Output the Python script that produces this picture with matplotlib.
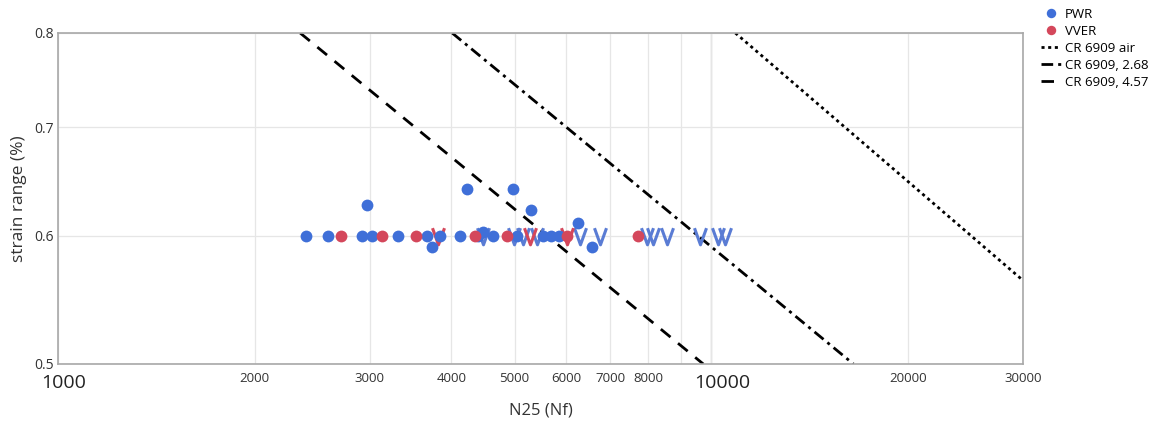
import matplotlib
matplotlib.use("Agg")
import matplotlib.pyplot as plt
import matplotlib.transforms as mtransforms
from matplotlib.path import Path
from matplotlib.ticker import FixedLocator, NullFormatter, FixedFormatter

plt.rcParams['font.family'] = ['Open Sans', 'DejaVu Sans']

# ---- data ----
pwr_N = [2398, 2591, 2922, 3026, 2973, 3316, 3674, 3739, 3846, 4128, 4231, 4398,
         4476, 4637, 4975, 5045, 5302, 5531, 5689, 5852, 6257, 6572]
pwr_strain = [0.6, 0.6, 0.6, 0.6, 0.627, 0.6, 0.6, 0.59, 0.6, 0.6, 0.641, 0.6,
              0.603, 0.6, 0.641, 0.6, 0.622, 0.6, 0.6, 0.6, 0.611, 0.59]

vver_N = [2713, 3134, 3534, 4352, 4870, 6019, 7732]
vver_strain = [0.6, 0.6, 0.6, 0.6, 0.6, 0.6, 0.6]

pwr_runout_N = [4476, 4996, 5153, 5415, 6302, 6761, 7980, 8150, 8562, 9620, 10250, 10505]
pwr_runout_strain = [0.6] * len(pwr_runout_N)
vver_runout_N = [3819, 5283, 6019]
vver_runout_strain = [0.6] * len(vver_runout_N)

air_N = [10885, 30000]
air_strain = [0.8, 0.563]
c268_N = [4012, 16503]
c268_strain = [0.8, 0.5]
c457_N = [2348, 9721]
c457_strain = [0.8, 0.5]

major_ticks = [1000, 10000]
major_labels = ['1000', '10000']
minor_ticks = [2000, 3000, 4000, 5000, 6000, 7000, 8000, 9000, 20000, 30000]
minor_labels = ['2000', '3000', '4000', '5000', '6000', '7000', '8000', '', '20000', '30000']
y_ticks = [0.5, 0.6, 0.7, 0.8]
y_labels = ['0.5', '0.6', '0.7', '0.8']

# ---- style ----
blue = '#3f6fd8'
blue_v = '#5a7cd4'
red = '#d4475b'

fig = plt.figure(figsize=(11.59, 4.25), dpi=100)
ax = fig.add_axes([58/1159, 1 - 364/425, (1023 - 58)/1159, (364 - 33)/425])
ax.set_xscale('log')
ax.set_yscale('log')
ax.set_xlim(1000, 30000)
ax.set_ylim(0.5, 0.8)

vpath = Path([(-0.36, 0.5), (0, -0.5), (0.36, 0.5)], [Path.MOVETO, Path.LINETO, Path.LINETO])

ax.plot(pwr_runout_N, pwr_runout_strain, linestyle='none', marker=vpath, ms=12,
        mfc='none', mec=blue_v, mew=2.2, zorder=3)
ax.plot(vver_runout_N, vver_runout_strain, linestyle='none', marker=vpath, ms=12,
        mfc='none', mec=red, mew=2.2, zorder=3)

ax.plot(pwr_N, pwr_strain, linestyle='none', marker='o', ms=8.5, color=blue,
        mec='none', label='PWR', zorder=4)
ax.plot(vver_N, vver_strain, linestyle='none', marker='o', ms=8.5, color=red,
        mec='none', label='VVER', zorder=4)

ax.plot(air_N, air_strain, color='black', lw=2.0, linestyle=(0, (1.1, 1.3)),
        label='CR 6909 air', zorder=2)
ax.plot(c268_N, c268_strain, color='black', lw=2.0, linestyle=(0, (4.2, 1.8, 1.1, 1.8)),
        label='CR 6909, 2.68', zorder=2)
ax.plot(c457_N, c457_strain, color='black', lw=2.0, linestyle=(0, (4.5, 3.5)),
        label='CR 6909, 4.57', zorder=2)

# ticks
ax.xaxis.set_major_locator(FixedLocator(major_ticks))
ax.xaxis.set_major_formatter(FixedFormatter(major_labels))
ax.xaxis.set_minor_locator(FixedLocator(minor_ticks))
ax.xaxis.set_minor_formatter(FixedFormatter(minor_labels))
ax.tick_params(axis='x', which='major', labelsize=14, length=0, pad=7, labelcolor='#222222')
ax.tick_params(axis='x', which='minor', labelsize=9.5, length=0, pad=6, labelcolor='#333333')

shifts = {0: 6, 1: 11}
for i, tick in enumerate(ax.xaxis.get_major_ticks()):
    off = mtransforms.ScaledTranslation(shifts.get(i, 0) / 100, 0, fig.dpi_scale_trans)
    tick.label1.set_transform(tick.label1.get_transform() + off)

ax.yaxis.set_major_locator(FixedLocator(y_ticks))
ax.yaxis.set_major_formatter(FixedFormatter(y_labels))
ax.yaxis.set_minor_locator(FixedLocator([]))
ax.yaxis.set_minor_formatter(NullFormatter())
ax.tick_params(axis='y', which='major', labelsize=10, length=0, pad=3, labelcolor='#333333')

ax.grid(True, which='both', axis='x', color='#e6e6e6', lw=0.9)
ax.grid(True, which='major', axis='y', color='#e6e6e6', lw=0.9)
ax.axvline(10000, color='#cfcfcf', lw=1.0, zorder=0.5)
ax.set_axisbelow(True)

for s in ax.spines.values():
    s.set_color('#a8a8a8')
    s.set_linewidth(1.2)

ax.set_xlabel('N25 (Nf)', fontsize=12, color='#333333', labelpad=8)
ax.set_ylabel('strain range (%)', fontsize=12.5, color='#333333', labelpad=5)

fig.legend(loc='upper left', bbox_to_anchor=(1033/1159, 1.0), frameon=False,
           fontsize=9.5, handlelength=1.5, handletextpad=0.3, labelspacing=0.3,
           borderaxespad=0.2, markerscale=0.8)

fig.savefig('out.png', dpi=100)
